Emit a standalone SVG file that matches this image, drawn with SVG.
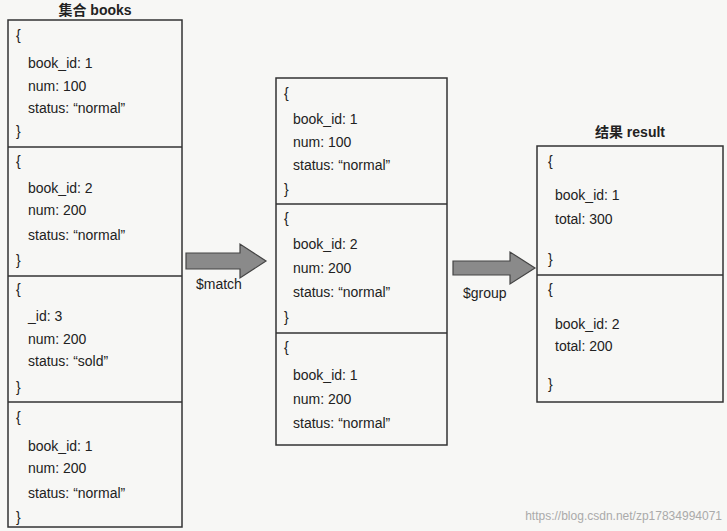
<svg xmlns="http://www.w3.org/2000/svg" width="727" height="531" viewBox="0 0 727 531">
<style>
text{font-family:"Liberation Sans","Noto Sans CJK SC",sans-serif;font-size:14px;fill:#222}
.t{font-weight:bold;font-size:14px}
.box{fill:none;stroke:#333;stroke-width:1.5}
.arr{fill:#8a8a8a;stroke:#444;stroke-width:1.2}
.wm{fill:#aaa;font-size:12px}
</style>
<rect width="727" height="531" fill="#f7f7f5"/>
<g id="title-books"><text class="t" x="95" y="15" text-anchor="middle">集合 books</text></g>
<g id="books">
<rect class="box" x="8" y="20" width="174" height="507"/>
<line class="box" x1="8" y1="147" x2="182" y2="147"/>
<line class="box" x1="8" y1="276" x2="182" y2="276"/>
<line class="box" x1="8" y1="402" x2="182" y2="402"/>
<text x="16" y="40">{</text><text x="28" y="68">book_id: 1</text><text x="28" y="91">num: 100</text><text x="28" y="113">status: “normal”</text><text x="16" y="136">}</text>
<text x="16" y="166">{</text><text x="28" y="193">book_id: 2</text><text x="28" y="215">num: 200</text><text x="28" y="240">status: “normal”</text><text x="16" y="265">}</text>
<text x="16" y="294">{</text><text x="28" y="321">_id: 3</text><text x="28" y="344">num: 200</text><text x="28" y="366">status: “sold”</text><text x="16" y="392">}</text>
<text x="16" y="422">{</text><text x="28" y="451">book_id: 1</text><text x="28" y="473">num: 200</text><text x="28" y="498">status: “normal”</text><text x="16" y="522">}</text>
</g>
<g id="connectors">
<path class="arr" d="M186,253 H240 V244 L266,261 L240,278 V269 H186 Z"/>
<text x="196" y="289">$match</text>
<path class="arr" d="M453,261 H510 V252 L535,268 L510,284 V275 H453 Z"/>
<text x="463" y="298">$group</text>
</g>
<g id="match">
<rect class="box" x="276" y="78" width="171" height="367"/>
<line class="box" x1="276" y1="204" x2="447" y2="204"/>
<line class="box" x1="276" y1="333" x2="447" y2="333"/>
<text x="284" y="98">{</text><text x="293" y="124">book_id: 1</text><text x="293" y="147">num: 100</text><text x="293" y="170">status: “normal”</text><text x="284" y="194">}</text>
<text x="284" y="223">{</text><text x="293" y="249">book_id: 2</text><text x="293" y="273">num: 200</text><text x="293" y="297">status: “normal”</text><text x="284" y="322">}</text>
<text x="284" y="352">{</text><text x="293" y="380">book_id: 1</text><text x="293" y="404">num: 200</text><text x="293" y="428">status: “normal”</text>
</g>
<g id="title-result"><text class="t" x="630" y="137" text-anchor="middle">结果 result</text></g>
<g id="result">
<rect class="box" x="537" y="146" width="186" height="256"/>
<line class="box" x1="537" y1="275" x2="723" y2="275"/>
<text x="548" y="166">{</text><text x="555" y="200">book_id: 1</text><text x="555" y="224">total: 300</text><text x="548" y="264">}</text>
<text x="548" y="294">{</text><text x="555" y="329">book_id: 2</text><text x="555" y="351">total: 200</text><text x="548" y="389">}</text>
</g>
<text class="wm" x="722" y="520" text-anchor="end">https://blog.csdn.net/zp17834994071</text>
</svg>
